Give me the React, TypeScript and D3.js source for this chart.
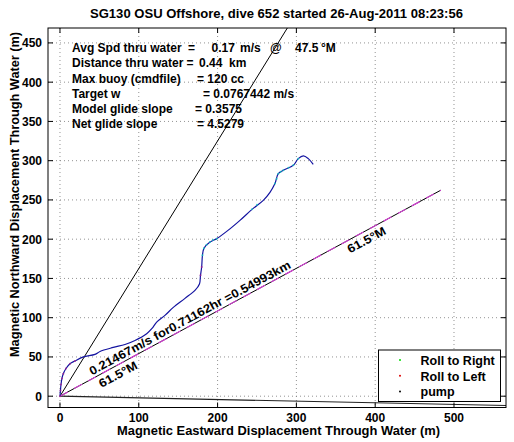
import React from "react";
import * as d3 from "d3";

const W = 514;
const H = 442;

const titleText = "SG130 OSU Offshore, dive 652 started 26-Aug-2011 08:23:56";
const xLabel = "Magnetic Eastward Displacement Through Water (m)";
const yLabel = "Magnetic Northward Displacement Through Water (m)";

const xTicks = [0, 100, 200, 300, 400, 500];
const yTicks = [0, 50, 100, 150, 200, 250, 300, 350, 400, 450];

// glider track (east, north) in metres
const trackX = [0, 0.6, 1.3, 2.5, 4.2, 7.6, 12.7, 19, 29.6, 44.4, 50.8, 67.6, 82.5, 95.2, 110, 116.8, 122.7, 133.2, 143.8, 158.6, 171.3, 177, 178.3, 179.8, 180.8, 182.7, 190.4, 198.9, 213.2, 228.4, 243.7, 258, 266.5, 272.8, 277, 283.4, 296.1, 302.4, 308.8, 315.1, 321.4];
const trackY = [0, 7.3, 14.9, 22.6, 28.6, 35.3, 41.3, 44.9, 50, 53.2, 57, 62.1, 65.9, 71, 79.6, 86.3, 94.3, 102.9, 113.1, 124.6, 134.8, 143, 153.9, 164.5, 179.4, 188.3, 196.3, 200.7, 211.2, 224, 238, 249.5, 259.7, 270.8, 283.5, 287.7, 294.1, 302.6, 306, 302.6, 295.4];

// roll markers
const rightX = [180.8, 182.7, 186, 190.4, 194, 198.9, 243.7, 250, 272.8, 275, 277, 280, 283.4, 290, 296.1, 302.4];
const rightY = [179.4, 188.3, 193, 196.3, 199, 200.7, 238, 244, 270.8, 277, 283.5, 286, 287.7, 291, 294.1, 302.6];
const leftX = [0, 0.6, 1.3, 2.5, 4.2, 7.6, 12.7, 19, 178.3, 179.8];
const leftY = [0, 7.3, 14.9, 22.6, 28.6, 35.3, 41.3, 44.9, 153.9, 164.5];

// reference lines: heading (deg magnetic) and length (m)
const netHeading = 61.5;
const netLength = 549.93;
const steepHeading = 31.6;
const steepLength = 700;
const lowHeading = 91.2;
const lowLength = 620;

const infoLabels = ["Avg Spd thru water", "Distance thru water", "Max buoy (cmdfile)", "Target w", "Model glide slope", "Net glide slope"];
const legendLabels = ["Roll to Right", "Roll to Left", "pump"];
const legendColors = ["#00dd00", "#dd0000", "#000000"];

const FONT = "'Liberation Sans', Arial, Helvetica, sans-serif";

export default function App() {
  const left = 48, right = 506, top = 28, bottom = 407.5;
  const x = d3.scaleLinear().domain([-15.2, 566]).range([left, right]);
  const y = d3.scaleLinear().domain([-14.4, 469]).range([bottom, top]);

  const rad = (h: number) => (h * Math.PI) / 180;
  const endOf = (h: number, L: number) => [L * Math.sin(rad(h)), L * Math.cos(rad(h))];
  const [netX, netY] = endOf(netHeading, netLength);
  const [stX, stY] = endOf(steepHeading, steepLength);
  const [lwX, lwY] = endOf(lowHeading, lowLength);

  const line = d3.line<number>().x((i) => x(trackX[i])).y((i) => y(trackY[i])).curve(d3.curveCatmullRom);
  const trackPath = line(trackX.map((_, i) => i)) || "";

  const p0x = x(0), p0y = y(0);
  const p1x = x(netX), p1y = y(netY);
  const ang = (Math.atan2(p1y - p0y, p1x - p0x) * 180) / Math.PI;

  const infoY = [51.5, 67, 82.5, 98, 112.5, 127.5];
  const fs = 12;
  const adj = "spacingAndGlyphs";

  return (
    <svg width={W} height={H} style={{ position: "fixed", left: 0, top: 0, background: "#fff" }} fontFamily={FONT}>
      <rect x={0} y={0} width={W} height={H} fill="#fff" />
      <defs>
        <clipPath id="plotclip">
          <rect x={left} y={top} width={right - left} height={bottom - top} />
        </clipPath>
      </defs>
      {/* grid */}
      {xTicks.map((t) => (
        <line key={"gx" + t} x1={x(t)} x2={x(t)} y1={top} y2={bottom} stroke="#777" strokeWidth={0.8} strokeDasharray="1,3" />
      ))}
      {yTicks.map((t) => (
        <line key={"gy" + t} x1={left} x2={right} y1={y(t)} y2={y(t)} stroke="#777" strokeWidth={0.8} strokeDasharray="1,3" />
      ))}
      <g clipPath="url(#plotclip)">
        <line x1={x(0)} y1={y(0)} x2={x(stX)} y2={y(stY)} stroke="#000" strokeWidth={1} />
        <line x1={x(0)} y1={y(0)} x2={x(lwX)} y2={y(lwY)} stroke="#222" strokeWidth={1.2} />
        <line x1={x(0)} y1={y(0)} x2={x(netX)} y2={y(netY)} stroke="#000" strokeWidth={1} />
        <line x1={x(0)} y1={y(0)} x2={x(netX)} y2={y(netY)} stroke="#d040d0" strokeWidth={1.2} strokeDasharray="9,7" />
        <path d={trackPath} fill="none" stroke="#1414a0" strokeWidth={1.2} />
        {rightX.map((v, i) => (
          <circle key={"r" + i} cx={x(v)} cy={y(rightY[i])} r={1} fill="#10c8c0" opacity={0.8} />
        ))}
        {leftX.map((v, i) => (
          <circle key={"l" + i} cx={x(v)} cy={y(leftY[i])} r={1} fill="#a02090" opacity={0.8} />
        ))}
      </g>
      {/* box */}
      <rect x={left} y={top} width={right - left} height={bottom - top} fill="none" stroke="#000" strokeWidth={1} />
      {/* ticks */}
      {xTicks.map((t) => (
        <g key={"tx" + t}>
          <line x1={x(t)} x2={x(t)} y1={bottom} y2={bottom - 5} stroke="#000" />
          <line x1={x(t)} x2={x(t)} y1={top} y2={top + 5} stroke="#000" />
          <text x={x(t)} y={bottom + 14.5} textAnchor="middle" fontSize={12} fontWeight="bold">{t}</text>
        </g>
      ))}
      {yTicks.map((t) => (
        <g key={"ty" + t}>
          <line x1={left} x2={left + 5} y1={y(t)} y2={y(t)} stroke="#000" />
          <line x1={right} x2={right - 5} y1={y(t)} y2={y(t)} stroke="#000" />
          <text x={left - 6} y={y(t) + 4.5} textAnchor="end" fontSize={12} fontWeight="bold">{t}</text>
        </g>
      ))}
      {/* labels */}
      <text x={90} y={18} fontSize={12} fontWeight="bold" textLength={373} lengthAdjust={adj}>{titleText}</text>
      <text x={117} y={435} fontSize={12} fontWeight="bold" textLength={323} lengthAdjust={adj}>{xLabel}</text>
      <text transform={`translate(19,357) rotate(-90)`} fontSize={12} fontWeight="bold" textLength={325} lengthAdjust={adj}>{yLabel}</text>
      {/* info block */}
      <g fontSize={fs} fontWeight="bold">
        <text x={72} y={infoY[0]}>{infoLabels[0]}</text>
        <text x={188} y={infoY[0]}>=</text>
        <text x={211.5} y={infoY[0]}>0.17</text>
        <text x={240} y={infoY[0]}>m/s</text>
        <text x={270} y={infoY[0]}>@</text>
        <text x={295} y={infoY[0]}>47.5</text>
        <text x={321} y={infoY[0]}>°M</text>
        <text x={72} y={infoY[1]}>{infoLabels[1]}</text>
        <text x={186.5} y={infoY[1]}>=</text>
        <text x={199} y={infoY[1]}>0.44</text>
        <text x={229} y={infoY[1]}>km</text>
        <text x={72} y={infoY[2]}>{infoLabels[2]}</text>
        <text x={197} y={infoY[2]}>= 120 cc</text>
        <text x={72} y={infoY[3]}>{infoLabels[3]}</text>
        <text x={203} y={infoY[3]}>= 0.0767442 m/s</text>
        <text x={72} y={infoY[4]}>{infoLabels[4]}</text>
        <text x={195} y={infoY[4]}>= 0.3575</text>
        <text x={72} y={infoY[5]}>{infoLabels[5]}</text>
        <text x={197} y={infoY[5]}>= 4.5279</text>
      </g>
      {/* text along net line */}
      <g transform={`translate(${p0x},${p0y}) rotate(${ang})`} fontSize={12} fontWeight="bold">
        <text x={38} y={-3} textLength={227} lengthAdjust={adj}>{`0.21467m/s for0.71162hr =0.54993km`}</text>
        <text x={40.5} y={12.5} textLength={42} lengthAdjust={adj}>{`${netHeading}°M`}</text>
        <text x={323} y={12.5} textLength={42} lengthAdjust={adj}>{`${netHeading}°M`}</text>
      </g>
      {/* legend */}
      <rect x={378.5} y={350} width={122} height={51.5} fill="#fff" stroke="#000" strokeWidth={1} />
      {legendLabels.map((lab, i) => (
        <g key={lab}>
          <circle cx={400} cy={360 + i * 15.7} r={1} fill={legendColors[i]} />
          <text x={420.5} y={365 + i * 15.7} fontSize={12.5} fontWeight="bold">{lab}</text>
        </g>
      ))}
    </svg>
  );
}
